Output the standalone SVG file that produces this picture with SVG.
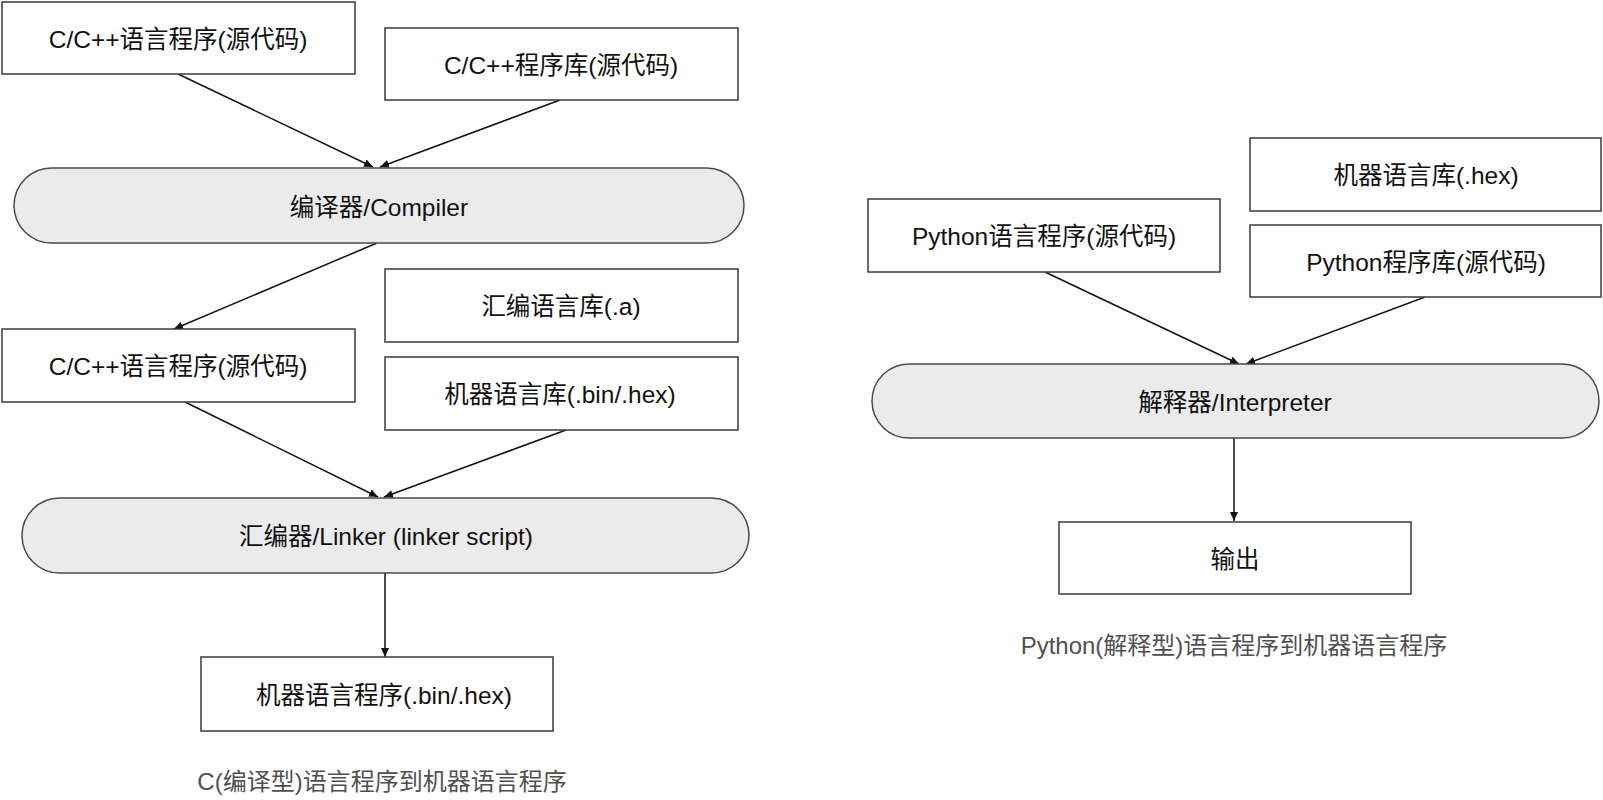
<svg xmlns="http://www.w3.org/2000/svg" width="1603" height="800" viewBox="0 0 1603 800">
<style>
.box{fill:#ffffff;stroke:#3a3a3a;stroke-width:1.5}
.pill{fill:#ebebeb;stroke:#4a4a4a;stroke-width:1.5}
.lbl{font-family:"Liberation Sans","Noto Sans CJK SC",sans-serif;font-size:24.5px;fill:#111;text-anchor:middle;dominant-baseline:central}
.cap{font-family:"Liberation Sans","Noto Sans CJK SC",sans-serif;font-size:24px;fill:#505050;text-anchor:middle;dominant-baseline:central}
.edge{stroke:#111;stroke-width:1.5;fill:none;marker-end:url(#arr)}
</style>
<defs>
<marker id="arr" markerUnits="userSpaceOnUse" markerWidth="10" markerHeight="10" refX="9" refY="4" orient="auto">
<path d="M0,0 L9,4 L0,8 Z" fill="#111"/>
</marker>
</defs>
<rect width="1603" height="800" fill="#ffffff"/>
<g id="connectors">
<line class="edge" x1="178" y1="74" x2="373" y2="167"/>
<line class="edge" x1="560" y1="100" x2="380" y2="167"/>
<line class="edge" x1="377" y1="243" x2="174" y2="329"/>
<line class="edge" x1="185" y1="402" x2="378" y2="497"/>
<line class="edge" x1="566" y1="430" x2="384" y2="497"/>
<line class="edge" x1="385" y1="573" x2="385" y2="657"/>
<line class="edge" x1="1045" y1="272" x2="1239" y2="364"/>
<line class="edge" x1="1425" y1="297" x2="1246" y2="364"/>
<line class="edge" x1="1234" y1="438" x2="1234" y2="521"/>
</g>
<g id="n_csrc1"><rect class="box" x="2" y="2" width="353" height="72"/><text class="lbl" x="178" y="39">C/C++语言程序(源代码)</text></g>
<g id="n_clib"><rect class="box" x="385" y="28" width="353" height="72"/><text class="lbl" x="561" y="65">C/C++程序库(源代码)</text></g>
<g id="n_compiler"><rect class="pill" x="14" y="168" width="730" height="75" rx="37.5"/><text class="lbl" x="379" y="207">编译器/Compiler</text></g>
<g id="n_csrc2"><rect class="box" x="2" y="329" width="353" height="73"/><text class="lbl" x="178" y="366">C/C++语言程序(源代码)</text></g>
<g id="n_asmlib"><rect class="box" x="385" y="269" width="353" height="73"/><text class="lbl" x="561" y="306">汇编语言库(.a)</text></g>
<g id="n_binlib"><rect class="box" x="385" y="357" width="353" height="73"/><text class="lbl" x="560" y="394">机器语言库(.bin/.hex)</text></g>
<g id="n_linker"><rect class="pill" x="22" y="498" width="727" height="75" rx="37.5"/><text class="lbl" x="386" y="536">汇编器/Linker (linker script)</text></g>
<g id="n_machine"><rect class="box" x="201" y="657" width="352" height="74"/><text class="lbl" x="384" y="695">机器语言程序(.bin/.hex)</text></g>
<text class="cap" x="382" y="781">C(编译型)语言程序到机器语言程序</text>
<g id="n_hexlib"><rect class="box" x="1250" y="138" width="351" height="73"/><text class="lbl" x="1426" y="175">机器语言库(.hex)</text></g>
<g id="n_pysrc"><rect class="box" x="868" y="199" width="352" height="73"/><text class="lbl" x="1044" y="236">Python语言程序(源代码)</text></g>
<g id="n_pylib"><rect class="box" x="1250" y="225" width="351" height="72"/><text class="lbl" x="1426" y="262">Python程序库(源代码)</text></g>
<g id="n_interp"><rect class="pill" x="872" y="364" width="727" height="74" rx="37"/><text class="lbl" x="1235" y="402">解释器/Interpreter</text></g>
<g id="n_output"><rect class="box" x="1059" y="522" width="352" height="72"/><text class="lbl" x="1235" y="559">输出</text></g>
<text class="cap" x="1234" y="645">Python(解释型)语言程序到机器语言程序</text>
</svg>
